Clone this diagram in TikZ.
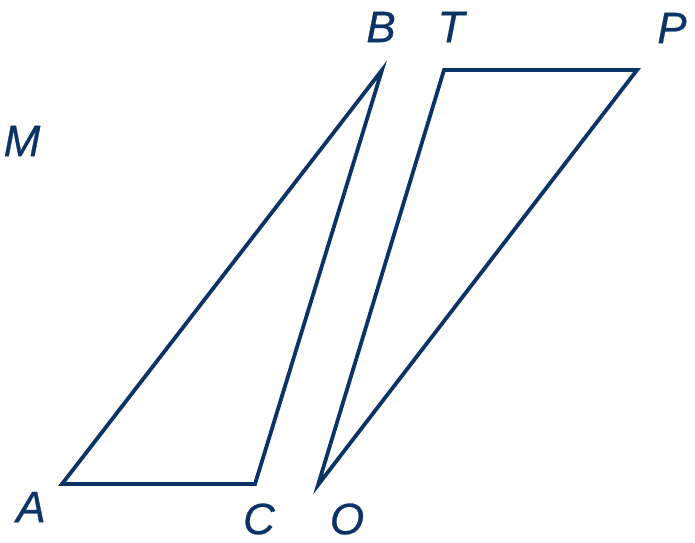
\documentclass[tikz,border=0pt]{standalone}
\usepackage{fontspec}
\setmainfont{Liberation Sans}[ItalicFeatures={FakeBold=0.6}]
\definecolor{ink}{HTML}{0B3366}
\begin{document}
\begin{tikzpicture}[x=1pt,y=-1pt,
  edge/.style={draw=ink,line width=3.8pt},
  lab/.style={text=ink,font=\fontsize{44}{44}\selectfont\itshape,inner sep=0pt}]
\useasboundingbox (0,0) rectangle (695,542);
\coordinate (A) at (62,484);
\coordinate (C) at (255,484);
\coordinate (B) at (382,70);
\coordinate (T) at (444,70);
\coordinate (P) at (637,70);
\coordinate (O) at (318,485);
\draw[edge] (A) -- (B) -- (C) -- cycle;
\draw[edge] (O) -- (T) -- (P) -- cycle;
\node[lab] (lB) at (381,27) {B};
\node[lab] (lT) at (451,27) {T};
\node[lab] (lP) at (672,28) {P};
\node[lab] (lM) at (22,141) {M};
\node[lab] (lA) at (31,507) {A};
\node[lab] (lC) at (259,519) {C};
\node[lab] (lO) at (347,519) {O};
\end{tikzpicture}
\end{document}
